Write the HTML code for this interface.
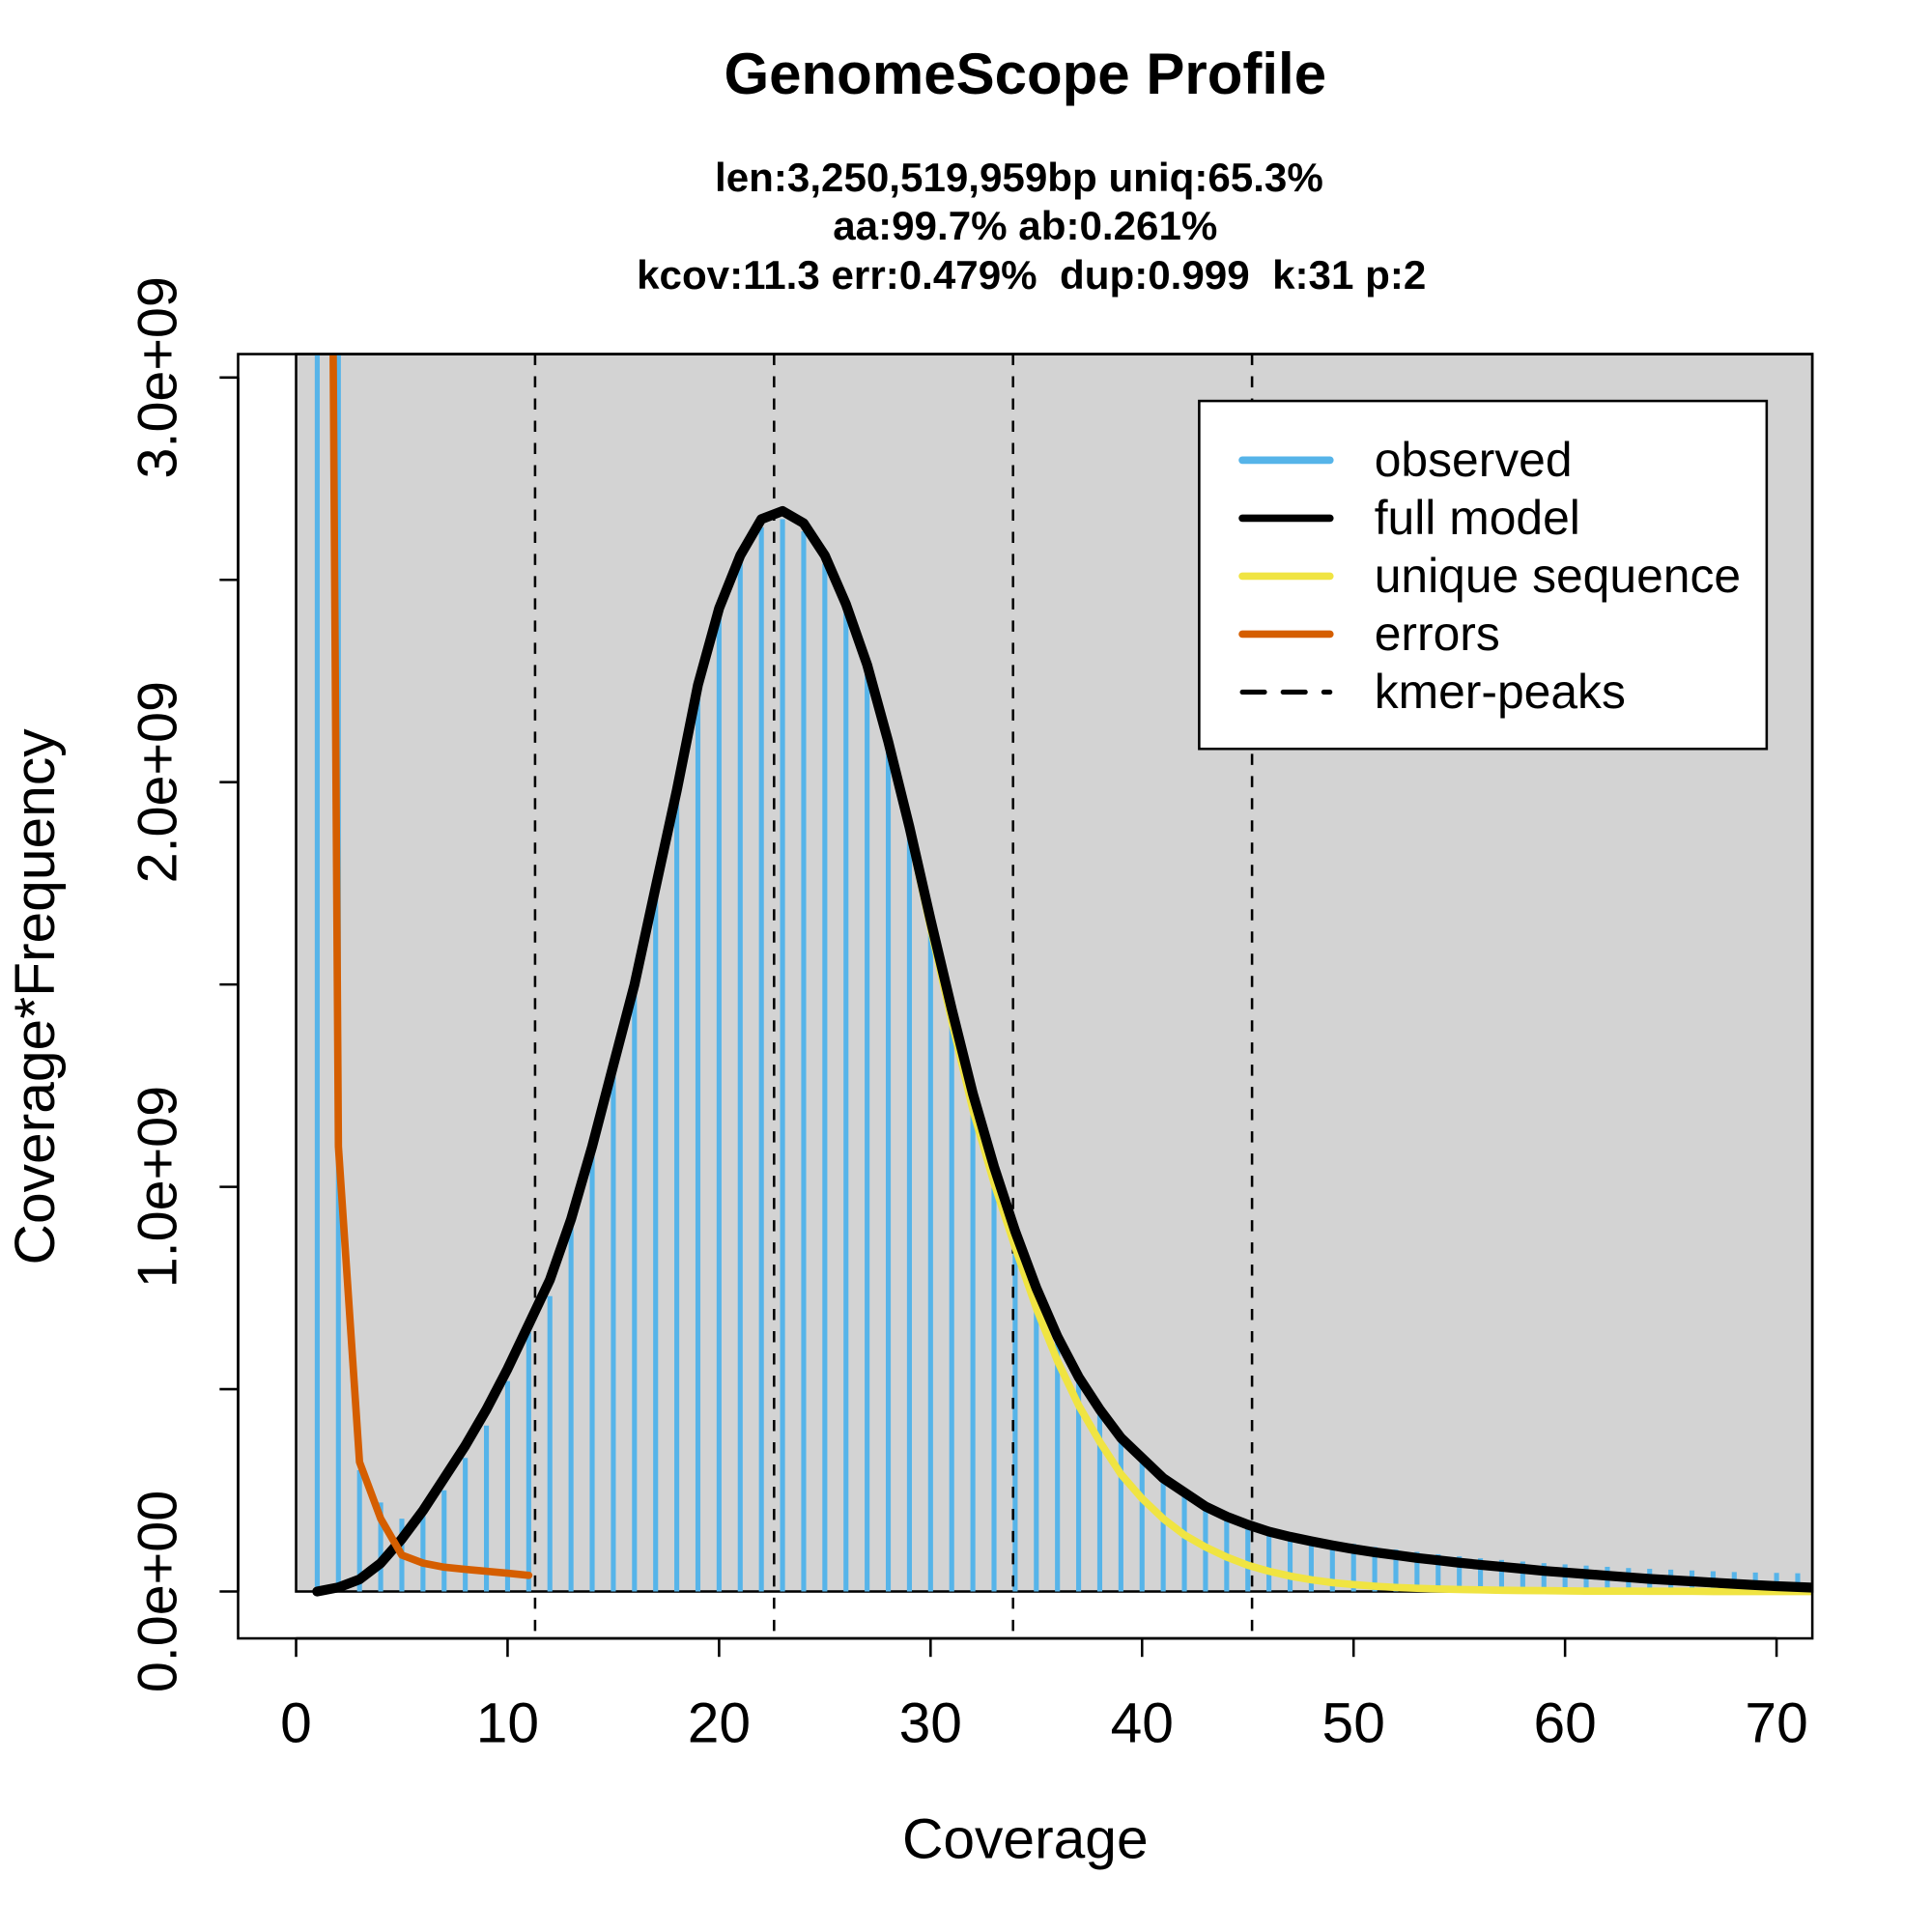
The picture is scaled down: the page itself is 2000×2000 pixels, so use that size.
<!DOCTYPE html>
<html><head><meta charset="utf-8"><style>
html,body{margin:0;padding:0;background:#fff}
svg{display:block}
text{font-family:"Liberation Sans",Arial,sans-serif;white-space:pre}
</style></head><body>
<svg id="chart" width="2000" height="2000" viewBox="0 0 1566 1566" xmlns="http://www.w3.org/2000/svg">
<text x="831" y="76" font-size="47" font-weight="bold" text-anchor="middle">GenomeScope Profile</text>
<text x="826" y="155" font-size="33" font-weight="bold" text-anchor="middle">len:3,250,519,959bp uniq:65.3%</text>
<text x="831" y="194" font-size="33" font-weight="bold" text-anchor="middle">aa:99.7% ab:0.261%</text>
<text x="836" y="234" font-size="33" font-weight="bold" text-anchor="middle">kcov:11.3 err:0.479%  dup:0.999  k:31 p:2</text>
<g id="plot"></g>
<text x="831" y="1506" font-size="46" text-anchor="middle">Coverage</text>
<text transform="translate(44,808) rotate(-90)" font-size="46" text-anchor="middle">Coverage*Frequency</text>
</svg>
<script>
const coverage=[1,2,3,4,5,6,7,8,9,10,11,12,13,14,15,16,17,18,19,20,21,22,23,24,25,26,27,28,29,30,31,32,33,34,35,36,37,38,39,40,41,42,43,44,45,46,47,48,49,50,51,52,53,54,55,56,57,58,59,60,61,62,63,64,65,66,67,68,69,70,71,72];
const observed=[3.5,3.5,0.3,0.22,0.18,0.21,0.25,0.33,0.41,0.52,0.64,0.73,0.9,1.1,1.3,1.5,1.74,1.98,2.22,2.41,2.55,2.63,2.65,2.62,2.54,2.42,2.27,2.08,1.87,1.64,1.42,1.21,1.03,0.87,0.74,0.62,0.53,0.45,0.38,0.33,0.28,0.245,0.215,0.19,0.17,0.155,0.145,0.135,0.125,0.118,0.11,0.104,0.098,0.092,0.087,0.082,0.078,0.074,0.07,0.067,0.064,0.061,0.058,0.056,0.054,0.052,0.05,0.048,0.047,0.046,0.045,0.044];
const fullModel=[0,0.01,0.03,0.07,0.13,0.2,0.28,0.36,0.45,0.55,0.66,0.77,0.92,1.1,1.3,1.5,1.74,1.98,2.24,2.43,2.56,2.65,2.67,2.64,2.56,2.44,2.29,2.1,1.89,1.66,1.44,1.23,1.05,0.89,0.75,0.63,0.53,0.45,0.38,0.33,0.28,0.245,0.21,0.185,0.165,0.148,0.135,0.124,0.114,0.105,0.097,0.09,0.083,0.077,0.071,0.066,0.061,0.056,0.051,0.047,0.043,0.039,0.035,0.031,0.028,0.025,0.022,0.019,0.016,0.013,0.011,0.009];
const uniqueSeq=[0,0.01,0.03,0.07,0.13,0.2,0.28,0.36,0.45,0.55,0.66,0.77,0.92,1.1,1.3,1.5,1.74,1.98,2.24,2.43,2.56,2.65,2.67,2.64,2.56,2.44,2.29,2.1,1.88,1.64,1.41,1.19,1.01,0.85,0.7,0.57,0.46,0.37,0.29,0.23,0.18,0.14,0.11,0.085,0.065,0.05,0.038,0.029,0.022,0.017,0.013,0.01,0.008,0.006,0.005,0.004,0.003,0.0025,0.002,0.0015,0.001,0.001,0.001,0.0005,0.0005,0.0005,0,0,0,0,0,0];
const errCov=[1.7,2,3,4,5,6,7,8,9,10,11];
const errors=[3.5,1.1,0.32,0.18,0.09,0.07,0.06,0.055,0.05,0.045,0.04];
const peaks=[11.3,22.6,33.9,45.2];
const xTicks=[0,10,20,30,40,50,60,70];
const yTicks=[0,0.5,1,1.5,2,2.5,3];
const yLabels=["0.0e+00","","1.0e+09","","2.0e+09","","3.0e+09"];

const NS="http://www.w3.org/2000/svg";
const L=193,R=1469,T=287,B=1328;
const X=v=>240+v*(1440-240)/70;
const Y=v=>1290-v*(1290-306)/3;
const g=document.getElementById('plot');
function mk(tag,attrs){const e=document.createElementNS(NS,tag);for(const k in attrs)e.setAttribute(k,attrs[k]);g.appendChild(e);return e;}
const cp=document.createElementNS(NS,'clipPath');cp.setAttribute('id','clip');
const cr=document.createElementNS(NS,'rect');cr.setAttribute('x',L);cr.setAttribute('y',T);cr.setAttribute('width',R-L);cr.setAttribute('height',B-T);cp.appendChild(cr);g.appendChild(cp);
let bg=mk('rect',{x:X(0),y:T,width:R-X(0),height:Y(0)-T,fill:'#d3d3d3',stroke:'#000','stroke-width':2});


const inner=document.createElementNS(NS,'g');inner.setAttribute('clip-path','url(#clip)');g.appendChild(inner);
function mi(tag,attrs){const e=document.createElementNS(NS,tag);for(const k in attrs)e.setAttribute(k,attrs[k]);inner.appendChild(e);return e;}
coverage.forEach((c,i)=>{
  const b=mi('line',{x1:X(c),x2:X(c),y1:Y(0),y2:Y(observed[i]),stroke:'#56b4e9','stroke-width':4});
  
  
});
peaks.forEach((p,i)=>{
  const l=mi('line',{x1:X(p),x2:X(p),y1:T,y2:B,stroke:'#000','stroke-width':2,'stroke-dasharray':'9,9'});
  
  
});
function pts(xs,ys){return xs.map((x,i)=>X(x).toFixed(1)+','+Y(ys[i]).toFixed(1)).join(' ');}
let pu=mi('polyline',{points:pts(coverage,uniqueSeq),fill:'none',stroke:'#f0e442','stroke-width':6,'stroke-linejoin':'round'});


let pf=mi('polyline',{points:pts(coverage,fullModel),fill:'none',stroke:'#000','stroke-width':8,'stroke-linejoin':'round','stroke-linecap':'round'});


let pe=mi('polyline',{points:pts(errCov,errors),fill:'none',stroke:'#d55e00','stroke-width':6,'stroke-linejoin':'round','stroke-linecap':'round'});


let box=mk('rect',{x:L,y:T,width:R-L,height:B-T,fill:'none',stroke:'#000','stroke-width':2});


let xa=mk('line',{x1:X(0),x2:X(70),y1:B,y2:B,stroke:'#000','stroke-width':2});


xTicks.forEach(t=>{
  let tk=mk('line',{x1:X(t),x2:X(t),y1:B,y2:B+15,stroke:'#000','stroke-width':2});
  
  
  let tx=mk('text',{x:X(t),y:1412,'font-size':46,'text-anchor':'middle'});tx.textContent=t;
  
  
});
let ya=mk('line',{x1:L,x2:L,y1:Y(0),y2:Y(3),stroke:'#000','stroke-width':2});


yTicks.forEach((t,i)=>{
  let tk=mk('line',{x1:L-15,x2:L,y1:Y(t),y2:Y(t),stroke:'#000','stroke-width':2});
  
  
  if(yLabels[i]){
    let tx=mk('text',{transform:'translate(143,'+Y(t)+') rotate(-90)','font-size':45,'text-anchor':'middle'});tx.textContent=yLabels[i];
    
    
  }
});
let lg=mk('rect',{x:972,y:325,width:460,height:282,fill:'#fff',stroke:'#000','stroke-width':2});


const legNames=['observed','full model','unique sequence','errors','kmer-peaks'];
const legColors=['#56b4e9','#000','#f0e442','#d55e00','#000'];
legNames.forEach((n,i)=>{
  const y=373+i*47;
  let ln=mk('line',{x1:1007,x2:1078,y1:y,y2:y,stroke:legColors[i],'stroke-width':i==4?4:6,'stroke-linecap':'round'});
  if(i==4)ln.setAttribute('stroke-dasharray','18,15');
  
  
  let tx=mk('text',{x:1114,y:y+13,'font-size':39});tx.textContent=n;
  
  
});
</script>
</body></html>
